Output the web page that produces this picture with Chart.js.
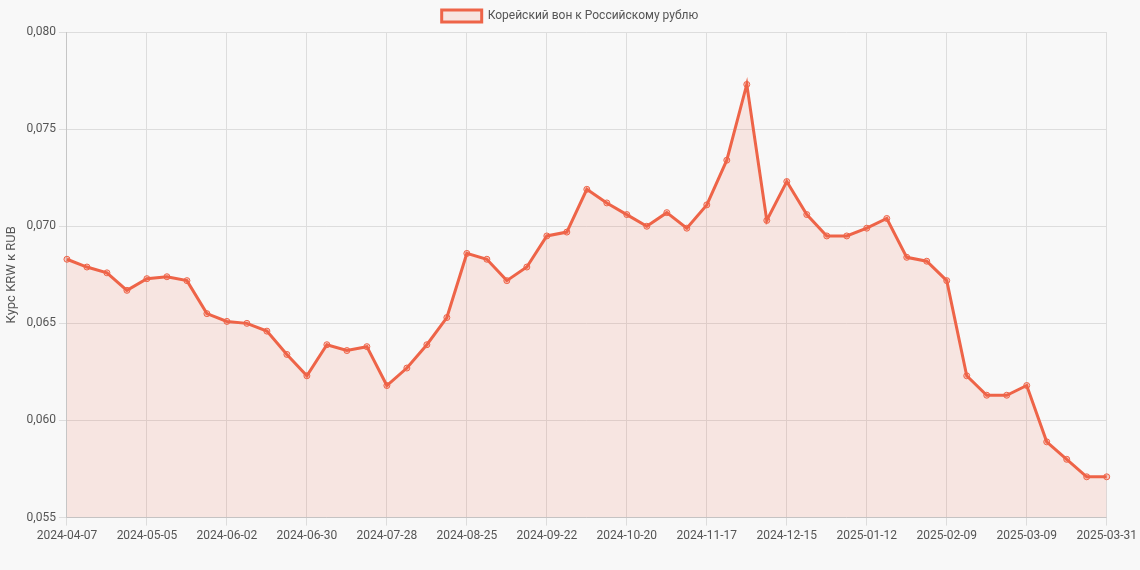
<!DOCTYPE html>
<html><head><meta charset="utf-8">
<script src="https://cdn.jsdelivr.net/npm/chart.js@4"></script>
<style>html,body{margin:0;background:#f8f8f8;}#w{width:1140px;height:570px;}</style>
</head><body><div id="w"><canvas id="c"></canvas></div>
<script>
const values=[0.0683,0.0679,0.0676,0.0667,0.0673,0.0674,0.0672,0.0655,0.0651,0.0650,0.0646,0.0634,0.0623,0.0639,0.0636,0.0638,0.0618,0.0627,0.0639,0.0653,0.0686,0.0683,0.0672,0.0679,0.0695,0.0697,0.0719,0.0712,0.0706,0.0700,0.0707,0.0699,0.0711,0.0734,0.0773,0.0703,0.0723,0.0706,0.0695,0.0695,0.0699,0.0704,0.0684,0.0682,0.0672,0.0623,0.0613,0.0613,0.0618,0.0589,0.0580,0.0571,0.0571];
const labels=[];
{const d=new Date(Date.UTC(2024,3,7));for(let i=0;i<52;i++){labels.push(new Date(d.getTime()+i*7*864e5).toISOString().slice(0,10));}labels.push('2025-03-31');}
const seriesName='Корейский вон к Российскому рублю';
const col='rgb(238,100,72)';
new Chart(document.getElementById('c'),{type:'line',data:{labels,datasets:[{label:seriesName,data:values,borderColor:col,backgroundColor:'rgba(238,100,72,0.13)',fill:true,borderWidth:3,tension:0,pointRadius:3,pointBackgroundColor:'rgba(238,100,72,0.3)',pointBorderColor:col,pointBorderWidth:1}]},
options:{responsive:true,maintainAspectRatio:false,animation:false,layout:{padding:{bottom:24}},
plugins:{legend:{labels:{font:{family:'Roboto',size:12},color:'#555',boxWidth:40}}},
scales:{x:{grid:{color:c=>(c.index%4===0)?'#ddd':'rgba(0,0,0,0)'},ticks:{maxRotation:0,color:'#555',font:{family:'Roboto',size:12},autoSkip:false,callback:(v,i)=>(i%4===0)?labels[i]:''}},
y:{min:0.055,max:0.080,title:{display:true,text:'Курс KRW к RUB',color:'#555',font:{family:'Roboto',size:13}},grid:{color:'#ddd'},ticks:{stepSize:0.005,color:'#555',font:{family:'Roboto',size:12},callback:v=>v.toFixed(3).replace('.',',')}}}}});
</script></body></html>
